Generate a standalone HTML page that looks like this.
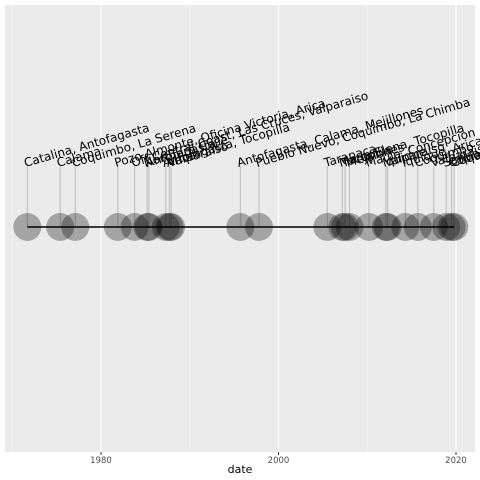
<!DOCTYPE html>
<html><head><meta charset="utf-8"><style>
body{margin:0;background:#fff}
svg{display:block;font-family:"DejaVu Sans","Liberation Sans",sans-serif}
</style></head><body>
<svg id="chart" width="480" height="480" xmlns="http://www.w3.org/2000/svg">
<rect x="5" y="5" width="470" height="447" fill="#ebebeb"/>
<g id="grid"></g>
<g id="segments"></g>
<line id="baseline" stroke="#000" stroke-width="1.4"/>
<g id="points"></g>
<g id="labels"></g>
<g id="xticks"></g>
<text x="240" y="473" text-anchor="middle" font-size="11" fill="#000">date</text>
</svg>
<script>
const years=[1971.7,1975.4,1977.1,1981.9,1983.8,1985.2,1985.4,1987.3,1987.7,1987.9,1995.7,1997.8,2005.5,2007.2,2007.5,2008.0,2010.2,2012.1,2012.3,2014.3,2015.7,2017.5,2018.9,2019.5,2019.8];
const places=["Catalina, Antofagasta","Calama","Coquimbo, La Serena","Pozo Almonte, Oficina Victoria, Arica","Off Central Coast, Las Cruces, Valparaiso","Northern Chile","Antofagasta","Antofagasta, Tocopilla","Arica","Valparaiso","Antofagasta, Calama, Mejillones","Pueblo Nuevo, Coquimbo, La Chimba","Tarapaca","Maria Elena, Tocopilla","Tocopilla","Mejillones","Maule, Concepcion","Iquique","Valparaiso","Iquique, Arica","Coquimbo","Valparaiso","Santiago","Copiapo","Coquimbo"];
const xTicks=[1980,2000,2020];
const xMinor=[1970,1990,2010];
const x=y=>101+(y-1980)*8.875;
const ns="http://www.w3.org/2000/svg";
function mk(t,p,a){const e=document.createElementNS(ns,t);for(const k in a)e.setAttribute(k,a[k]);p.appendChild(e);return e;}
const grid=document.getElementById('grid');
xMinor.forEach(v=>{const l=mk('line',grid,{x1:x(v),x2:x(v),y1:5,y2:452,stroke:'#f5f5f5','stroke-width':0.6});

});
xTicks.forEach(v=>{const l=mk('line',grid,{x1:x(v),x2:x(v),y1:5,y2:452,stroke:'#fff','stroke-width':1.1});


const tk=document.getElementById('xticks');
const t=mk('line',tk,{x1:x(v),x2:x(v),y1:452,y2:455,stroke:'#333','stroke-width':1});


const tx=mk('text',tk,{x:x(v),y:463,'text-anchor':'middle','font-size':8.5,fill:'#4d4d4d'});tx.textContent=v;

});
const bl=document.getElementById('baseline');
bl.setAttribute('x1',x(Math.min(...years)));bl.setAttribute('x2',x(Math.max(...years)));bl.setAttribute('y1',227);bl.setAttribute('y2',227);
const sg=document.getElementById('segments'),pg=document.getElementById('points'),lg=document.getElementById('labels');
years.forEach((v,i)=>{
const s=mk('line',sg,{x1:x(v),x2:x(v),y1:166,y2:227,stroke:'#bbb','stroke-width':1});


const c=mk('circle',pg,{cx:x(v),cy:227,r:14,fill:'#000','fill-opacity':0.3});


const t=mk('text',lg,{x:x(v)-2,y:167,'font-size':12,fill:'#000',transform:`rotate(-16 ${x(v)-2} 167)`});
t.textContent=places[i];


});
</script>
</body></html>
